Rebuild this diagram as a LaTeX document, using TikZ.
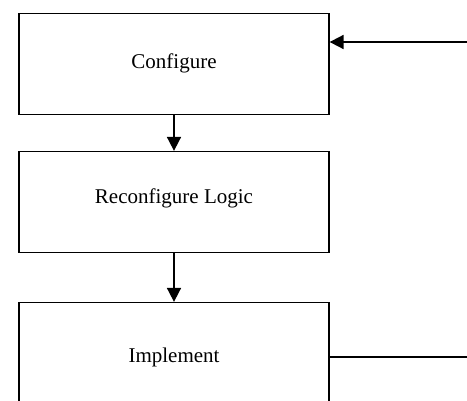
\documentclass[tikz,border=0pt]{standalone}
\usepackage{fontspec}
\setmainfont{Liberation Serif}
\usetikzlibrary{arrows.meta}
\tikzset{
  stagebox/.style={draw, line width=1.3pt, minimum width=310pt, minimum height=101pt,
    inner sep=0pt},
  stagetext/.style={inner sep=0pt, font=\fontsize{21}{25}\selectfont},
  flow/.style={line width=1.8pt, -{Triangle[length=14pt,width=14pt]}},
  plain/.style={line width=1.8pt}
}
\begin{document}
\begin{tikzpicture}[x=1pt,y=-1pt]
  \useasboundingbox (0,0) rectangle (467,400);
  \clip (0,0) rectangle (467,400);
  % stages
  \node[stagebox] (conf) at (174,64) {};
  \node[stagebox] (reconf) at (174,202) {};
  \node[stagebox] (impl) at (174,353) {};
  % stage titles
  \node[stagetext] (conft) at (174,63.5) {Configure};
  \node[stagetext] (reconft) at (174,198) {Reconfigure Logic};
  \node[stagetext] (implt) at (174,357) {Implement};
  % feedback ends at the right edge
  \coordinate (fbin) at (467,42);
  \coordinate (fbout) at (467,357);
  \draw[flow] (conf) -- (reconf);
  \draw[flow] (reconf) -- (impl);
  \draw[flow] (fbin) -- (conf.east |- fbin);
  \draw[plain] (impl.east |- fbout) -- (fbout);
\end{tikzpicture}
\end{document}
